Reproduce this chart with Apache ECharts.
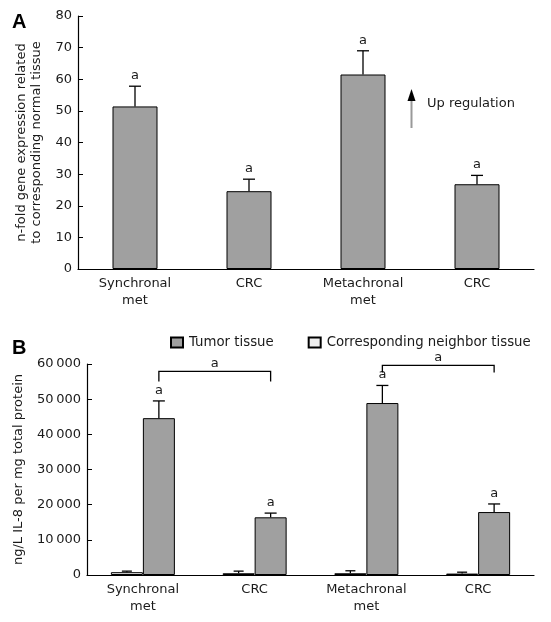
<!DOCTYPE html>
<html><head><meta charset="utf-8">
<script src="https://cdn.jsdelivr.net/npm/echarts@6/dist/echarts.min.js"></script>
<style>html,body{margin:0;padding:0;background:#fff}#c{width:551px;height:622px}</style>
</head><body><div id="c"></div>
<script>
// ---- data ----
const categories = ['Synchronal\nmet', 'CRC', 'Metachronal\nmet', 'CRC'];
const foldMean = [51.4, 24.6, 61.5, 26.8];
const foldErrTop = [57.8, 28.4, 69.0, 29.6];
const foldSig = ['a', 'a', 'a', 'a'];
const tumorMean = [44600, 16400, 48900, 17900];
const tumorErrTop = [49500, 17600, 53900, 20200];
const tumorSig = ['a', 'a', 'a', 'a'];
const neighborMean = [800, 500, 500, 400];
const neighborErrTop = [1100, 1100, 1200, 800];
const brackets = [[0, 1, 57900, 'a'], [2, 3, 59600, 'a']];
const yTicksA = [0, 10, 20, 30, 40, 50, 60, 70, 80];
const yTicksB = [0, 10000, 20000, 30000, 40000, 50000, 60000];

// ---- styles ----
const FONT = 'DejaVu Sans';
const TXT = '#1a1a1a';
const BW = 32;
const chart = echarts.init(document.getElementById('c'));

function errRender(offset, capHalf, labels) {
  return function (params, api) {
    const i = api.value(0);
    const c = api.coord([i, 0]);
    const x = c[0] + offset;
    const yM = api.coord([i, api.value(1)])[1];
    const yT = api.coord([i, api.value(2)])[1];
    const ch = [
      {type: 'line', shape: {x1: x, y1: yM, x2: x, y2: yT}, style: {stroke: '#000', lineWidth: 1.3}},
      {type: 'line', shape: {x1: x - capHalf, y1: yT, x2: x + capHalf, y2: yT}, style: {stroke: '#000', lineWidth: 1.3}}
    ];
    if (labels) ch.push({type: 'text', style: {text: labels[params.dataIndex], x: x, y: yT - 4, align: 'center', verticalAlign: 'bottom', font: '13px "' + FONT + '"', fill: TXT}});
    return {type: 'group', children: ch};
  };
}

function axisX(gi) {
  return {
    type: 'category', gridIndex: gi, data: categories,
    axisLine: {lineStyle: {color: '#000', width: 1.2}},
    axisTick: {inside: true, length: 4, lineStyle: {color: '#000'}},
    axisLabel: {color: TXT, fontFamily: FONT, fontSize: 13, lineHeight: 17, margin: 6}
  };
}
function axisY(gi, ticks, name, gap, fmt) {
  return {
    type: 'value', gridIndex: gi, min: ticks[0], max: ticks[ticks.length - 1], interval: ticks[1] - ticks[0],
    name: name, nameLocation: 'middle', nameGap: gap,
    nameTextStyle: {color: TXT, fontFamily: FONT, fontSize: 13, lineHeight: 15},
    axisLine: {show: true, lineStyle: {color: '#000', width: 1.2}},
    axisTick: {show: true, inside: true, length: 5, lineStyle: {color: '#000'}},
    axisLabel: {color: TXT, fontFamily: FONT, fontSize: 13, margin: 6, formatter: fmt},
    splitLine: {show: false}
  };
}
const fmtB = v => v === 0 ? '0' : String(v).replace(/(\d+)(\d{3})$/, '$1\u2009$2');

const option = {
  animation: false,
  backgroundColor: '#fff',
  grid: [
    {left: 78, right: 17, top: 16, bottom: 353},
    {left: 87, right: 17, top: 364, bottom: 47}
  ],
  xAxis: [axisX(0), axisX(1)],
  yAxis: [
    axisY(0, yTicksA, 'n-fold gene expression related\nto corresponding normal tissue', 34),
    axisY(1, yTicksB, 'ng/L IL-8 per mg total protein', 60, fmtB)
  ],
  legend: {
    left: 170, top: 336, padding: 0, icon: 'rect', itemWidth: 12, itemHeight: 10, itemGap: 34,
    data: ['Tumor tissue', 'Corresponding neighbor tissue'],
    textStyle: {color: TXT, fontFamily: FONT, fontSize: 13.3, padding: [0, 0, 0, 1]}
  },
  graphic: [
    {type: 'text', left: 12, top: 12, style: {text: 'A', font: 'bold 20px "Liberation Sans"', fill: '#000'}},
    {type: 'text', left: 12, top: 338, style: {text: 'B', font: 'bold 20px "Liberation Sans"', fill: '#000'}},
    {type: 'line', shape: {x1: 411.5, y1: 128, x2: 411.5, y2: 98}, style: {stroke: '#999', lineWidth: 2}},
    {type: 'polygon', shape: {points: [[411.5, 89], [407.5, 101], [415.5, 101]]}, style: {fill: '#000'}},
    {type: 'text', left: 427, top: 97, style: {text: 'Up regulation', font: '13px "' + FONT + '"', fill: TXT}}
  ],
  series: [
    {type: 'bar', xAxisIndex: 0, yAxisIndex: 0, data: foldMean, barWidth: 45,
     itemStyle: {color: '#a0a0a0', borderColor: '#000', borderWidth: 1}},
    {type: 'custom', xAxisIndex: 0, yAxisIndex: 0, encode: {x: 0, y: 2},
     data: foldMean.map((m, i) => [i, m, foldErrTop[i]]), renderItem: errRender(0, 6, foldSig), z: 5},
    {name: 'Corresponding neighbor tissue', type: 'bar', xAxisIndex: 1, yAxisIndex: 1, data: neighborMean, barWidth: BW, barGap: '0%',
     itemStyle: {color: '#efefef', borderColor: '#000', borderWidth: 1}},
    {name: 'Tumor tissue', type: 'bar', xAxisIndex: 1, yAxisIndex: 1, data: tumorMean, barWidth: BW, barGap: '0%',
     itemStyle: {color: '#a0a0a0', borderColor: '#000', borderWidth: 1}},
    {type: 'custom', xAxisIndex: 1, yAxisIndex: 1, encode: {x: 0, y: 2},
     data: neighborMean.map((m, i) => [i, m, neighborErrTop[i]]), renderItem: errRender(-BW / 2, 5, null), z: 5},
    {type: 'custom', xAxisIndex: 1, yAxisIndex: 1, encode: {x: 0, y: 2},
     data: tumorMean.map((m, i) => [i, m, tumorErrTop[i]]), renderItem: errRender(BW / 2, 6, tumorSig), z: 5},
    {type: 'custom', xAxisIndex: 1, yAxisIndex: 1, encode: {x: 0, y: 2},
     data: brackets,
     renderItem: function (params, api) {
       const a = api.value(0), b = api.value(1), v = api.value(2);
       const x1 = api.coord([a, v])[0] + BW / 2;
       const x2 = api.coord([b, v])[0] + BW / 2;
       const y = api.coord([a, v])[1];
       const drop = params.dataIndex === 0 ? 10 : 7;
       return {type: 'group', children: [
         {type: 'polyline', shape: {points: [[x1, y + drop], [x1, y], [x2, y], [x2, y + drop]]}, style: {stroke: '#000', lineWidth: 1.3, fill: null}},
         {type: 'text', style: {text: brackets[params.dataIndex][3], x: (x1 + x2) / 2, y: y - 1, align: 'center', verticalAlign: 'bottom', font: '13px "' + FONT + '"', fill: TXT}}
       ]};
     }, z: 5}
  ]
};
chart.setOption(option);
</script></body></html>
